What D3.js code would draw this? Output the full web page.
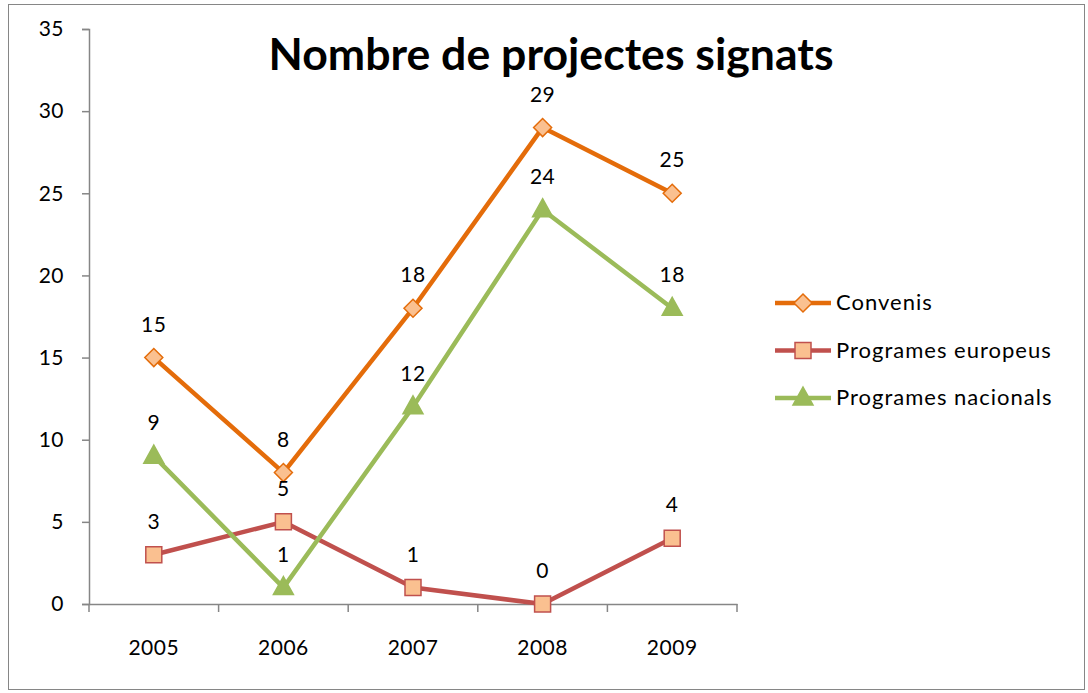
<!DOCTYPE html>
<html>
<head>
<meta charset="utf-8">
<script src="https://cdn.jsdelivr.net/npm/d3@7"></script>
<style>
  body { margin: 0; background: #fff; }
  text { font-family: Lato, "Open Sans", sans-serif; fill: #000; }
</style>
</head>
<body>
<div class="chart"></div>
<script>
(function(){
// data
var years = ["2005", "2006", "2007", "2008", "2009"];
var convenis = [15, 8, 18, 29, 25];
var europeus = [3, 5, 1, 0, 4];
var nacionals = [9, 1, 12, 24, 18];
var seriesNames = ["Convenis", "Programes europeus", "Programes nacionals"];
var yTicks = [0, 5, 10, 15, 20, 25, 30, 35];

var series = [
  {name: seriesNames[0], values: convenis, color: "#E46C0A", fill: "#FAC090", marker: "diamond"},
  {name: seriesNames[1], values: europeus, color: "#C0504D", fill: "#FAC090", marker: "square"},
  {name: seriesNames[2], values: nacionals, color: "#9BBB59", fill: "#9BBB59", marker: "triangle"}
];

var W = 1088, H = 693;
var margin = {top: 29, left: 89},
    width = 648,
    height = 575;

var svg = d3.select(".chart").append("svg")
    .attr("width", W)
    .attr("height", H);

// outer border
svg.append("rect")
    .attr("x", 8.5).attr("y", 4.5)
    .attr("width", 1076).attr("height", 685)
    .style("fill", "none")
    .style("stroke", "#868686")
    .style("stroke-width", 1);

// title
svg.append("text")
    .attr("x", 551).attr("y", 70)
    .attr("text-anchor", "middle")
    .style("font-size", "43px")
    .style("font-weight", "bold")
    .attr("textLength", 565)
    .attr("lengthAdjust", "spacingAndGlyphs")
    .text("Nombre de projectes signats");

var g = svg.append("g")
    .attr("transform", "translate(" + margin.left + "," + margin.top + ")");

var x = d3.scaleBand().domain(years).range([0, width]);
var y = d3.scaleLinear().domain([0, 35]).range([height, 0]);

// y axis
var yAxis = g.append("g")
    .call(d3.axisLeft(y).tickValues(yTicks).tickSize(7).tickPadding(18));
// x axis
var xAxis = g.append("g")
    .attr("transform", "translate(0," + height + ")")
    .call(d3.axisBottom(x).tickSize(0).tickPadding(36));

g.selectAll(".domain").style("stroke", "#868686").style("stroke-width", 1.5);
yAxis.selectAll(".tick line").style("stroke", "#868686").style("stroke-width", 1.5);
g.selectAll(".tick text")
    .style("font-size", "21px")
    .style("letter-spacing", "0.5px")
    .style("font-family", "Lato, 'Open Sans', sans-serif");

// x tick marks at category boundaries
var bounds = years.map(function(d) { return x(d); }).concat([width]);
xAxis.selectAll(".bound").data(bounds).enter().append("line")
    .attr("x1", function(d) { return d; }).attr("x2", function(d) { return d; })
    .attr("y1", 0).attr("y2", 8)
    .style("stroke", "#868686").style("stroke-width", 1.5);

var cx = function(i) { return x(years[i]) + x.bandwidth() / 2; };

var line = d3.line()
    .x(function(d, i) { return cx(i); })
    .y(function(d) { return y(d); });

function markerPath(type) {
  if (type === "diamond") return "M0,-9L9,0L0,9L-9,0Z";
  if (type === "square") return "M-8,-8H8V8H-8Z";
  return "M0,-11L10,7L-10,7Z";
}

series.forEach(function(s) {
  g.append("path")
      .datum(s.values)
      .attr("d", line)
      .style("fill", "none")
      .style("stroke", s.color)
      .style("stroke-width", 4.5)
      .style("stroke-linejoin", "round");

  g.selectAll(null).data(s.values).enter().append("path")
      .attr("transform", function(d, i) { return "translate(" + cx(i) + "," + y(d) + ")"; })
      .attr("d", markerPath(s.marker))
      .style("fill", s.fill)
      .style("stroke", s.color)
      .style("stroke-width", 1.5);

  g.selectAll(null).data(s.values).enter().append("text")
      .attr("x", function(d, i) { return cx(i); })
      .attr("y", function(d) { return y(d) - 26; })
      .attr("text-anchor", "middle")
      .style("font-size", "21px")
      .style("letter-spacing", "0.5px")
      .text(function(d) { return d; });
});

// legend
var legend = svg.append("g").attr("transform", "translate(775,303)");
var rows = legend.selectAll("g").data(series).enter().append("g")
    .attr("transform", function(d, i) { return "translate(0," + (i * 47.5) + ")"; });
rows.append("line")
    .attr("x1", 0).attr("x2", 56)
    .style("stroke", function(d) { return d.color; })
    .style("stroke-width", 4.5);
rows.append("path")
    .attr("transform", "translate(28,0)")
    .attr("d", function(d) { return markerPath(d.marker); })
    .style("fill", function(d) { return d.fill; })
    .style("stroke", function(d) { return d.color; })
    .style("stroke-width", 1.5);
rows.append("text")
    .attr("x", 61).attr("y", 7)
    .style("font-size", "22px")
    .style("letter-spacing", "1px")
    .text(function(d) { return d.name; });
})();
</script>
</body>
</html>
